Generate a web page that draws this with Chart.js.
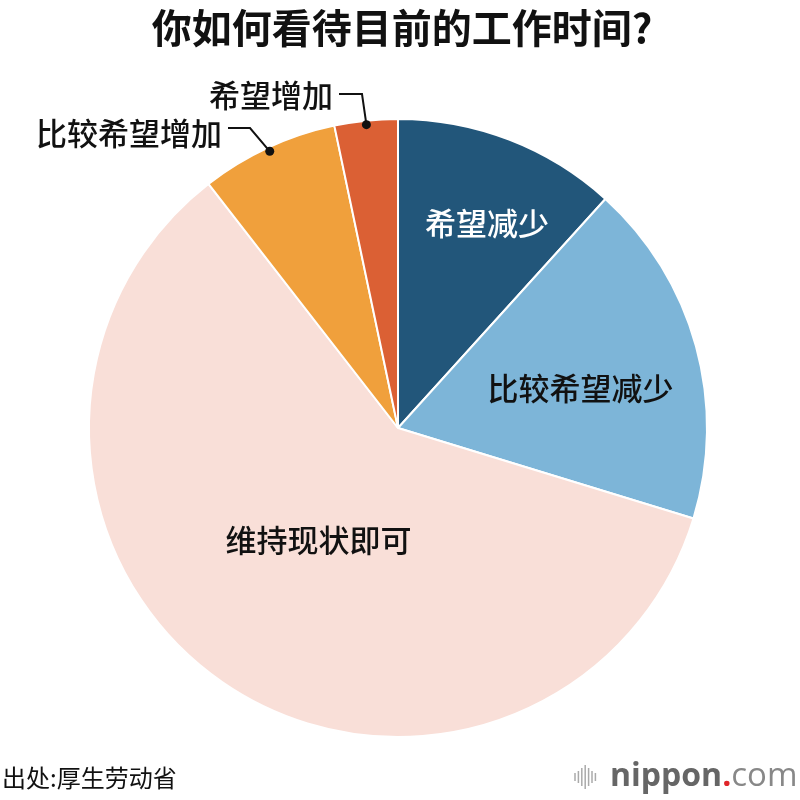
<!DOCTYPE html>
<html>
<head>
<meta charset="utf-8">
<script src="https://cdn.jsdelivr.net/npm/chart.js@4"></script>
<style>
  html, body { margin: 0; padding: 0; background: #ffffff; }
  #wrap { width: 800px; height: 800px; }
</style>
</head>
<body>
<div id="wrap"><canvas id="pie" width="800" height="800"></canvas></div>
<script>
// Data (percent, clockwise from 12 o'clock)
const labels = ['希望减少', '比较希望减少', '维持现状即可', '比较希望增加', '希望增加'];
const values = [11.7, 18.0, 59.7, 7.2, 3.3];
const title = '你如何看待目前的工作时间?';
const source = '出处:厚生劳动省';

const COLORS = ['#22567a', '#7db5d8', '#f9dfd8', '#f0a03c', '#db6034'];
const FONT = "'Noto Sans CJK SC', 'Noto Sans', sans-serif";

// inside labels: radius fraction, angle nudge (deg) and text colour (null = drawn outside)
const insideLabel = [
    { r: 0.723, da: 2.4, color: '#ffffff' },
    { r: 0.605, da: 3.0, color: '#111111' },
    { r: 0.445, da: 0.7, color: '#111111' },
    null,
    null
];

// outside labels with leader lines
const outsideLabel = {
    3: { textX: 222, textY: 133, elbowX: 250, elbowY: 128 },
    4: { textX: 333, textY: 95, elbowX: 362, elbowY: 94 }
};

const decorPlugin = {
    id: 'decor',
    afterDraw(chart) {
        const ctx = chart.ctx;
        const meta = chart.getDatasetMeta(0);
        ctx.save();

        // title
        ctx.fillStyle = '#111111';
        ctx.font = `bold 40px ${FONT}`;
        ctx.textAlign = 'center';
        ctx.textBaseline = 'middle';
        ctx.fillText(title, 402, 28);

        meta.data.forEach((arc, i) => {
            const p = arc.getProps(['x', 'y', 'startAngle', 'endAngle', 'outerRadius'], true);
            let mid = (p.startAngle + p.endAngle) / 2;
            const lab = insideLabel[i];
            ctx.font = `500 31px ${FONT}`;
            if (lab) {
                mid += lab.da * Math.PI / 180;
                const r = p.outerRadius * lab.r;
                ctx.fillStyle = lab.color;
                ctx.textAlign = 'center';
                ctx.textBaseline = 'middle';
                ctx.fillText(labels[i], p.x + Math.cos(mid) * r, p.y + Math.sin(mid) * r);
            } else if (outsideLabel[i]) {
                const o = outsideLabel[i];
                const r = p.outerRadius - 4;
                const dx = p.x + Math.cos(mid) * r;
                const dy = p.y + Math.sin(mid) * r;
                ctx.strokeStyle = '#111111';
                ctx.lineWidth = 2;
                ctx.beginPath();
                ctx.moveTo(o.textX + 6, o.elbowY);
                ctx.lineTo(o.elbowX, o.elbowY);
                ctx.lineTo(dx, dy);
                ctx.stroke();
                ctx.fillStyle = '#111111';
                ctx.beginPath();
                ctx.arc(dx, dy, 4.5, 0, Math.PI * 2);
                ctx.fill();
                ctx.textAlign = 'right';
                ctx.textBaseline = 'middle';
                ctx.fillText(labels[i], o.textX, o.textY);
            }
        });

        // source
        ctx.fillStyle = '#111111';
        ctx.font = `24px ${FONT}`;
        ctx.textAlign = 'left';
        ctx.textBaseline = 'middle';
        ctx.fillText(source, 2, 778);

        // nippon.com mark
        ctx.strokeStyle = '#aaaaaa';
        ctx.lineWidth = 1.5;
        const bars = [8, 12, 18, 24, 18, 12, 8];
        bars.forEach((h, k) => {
            const x = 575 + k * 3.4;
            ctx.beginPath();
            ctx.moveTo(x, 777 - h / 2);
            ctx.lineTo(x, 777 + h / 2);
            ctx.stroke();
        });
        ctx.textAlign = 'left';
        ctx.textBaseline = 'alphabetic';
        ctx.font = `bold 32px 'Open Sans', sans-serif`;
        ctx.fillStyle = '#666666';
        ctx.fillText('nippon', 610, 786);
        let x = 610 + ctx.measureText('nippon').width;
        ctx.fillStyle = '#e0262a';
        ctx.fillText('.', x, 786);
        x += ctx.measureText('.').width;
        ctx.font = `33px 'Open Sans', sans-serif`;
        ctx.fillStyle = '#888888';
        ctx.fillText('com', x, 786);

        ctx.restore();
    }
};

new Chart(document.getElementById('pie'), {
    type: 'pie',
    data: {
        labels: labels,
        datasets: [{
            data: values,
            backgroundColor: COLORS,
            borderColor: '#ffffff',
            borderWidth: 2
        }]
    },
    options: {
        responsive: false,
        animation: false,
        layout: {
            padding: { left: 88, right: 92, top: 118, bottom: 62 }
        },
        plugins: {
            legend: { display: false },
            tooltip: { enabled: false },
            title: { display: false }
        }
    },
    plugins: [decorPlugin]
});
</script>
</body>
</html>
